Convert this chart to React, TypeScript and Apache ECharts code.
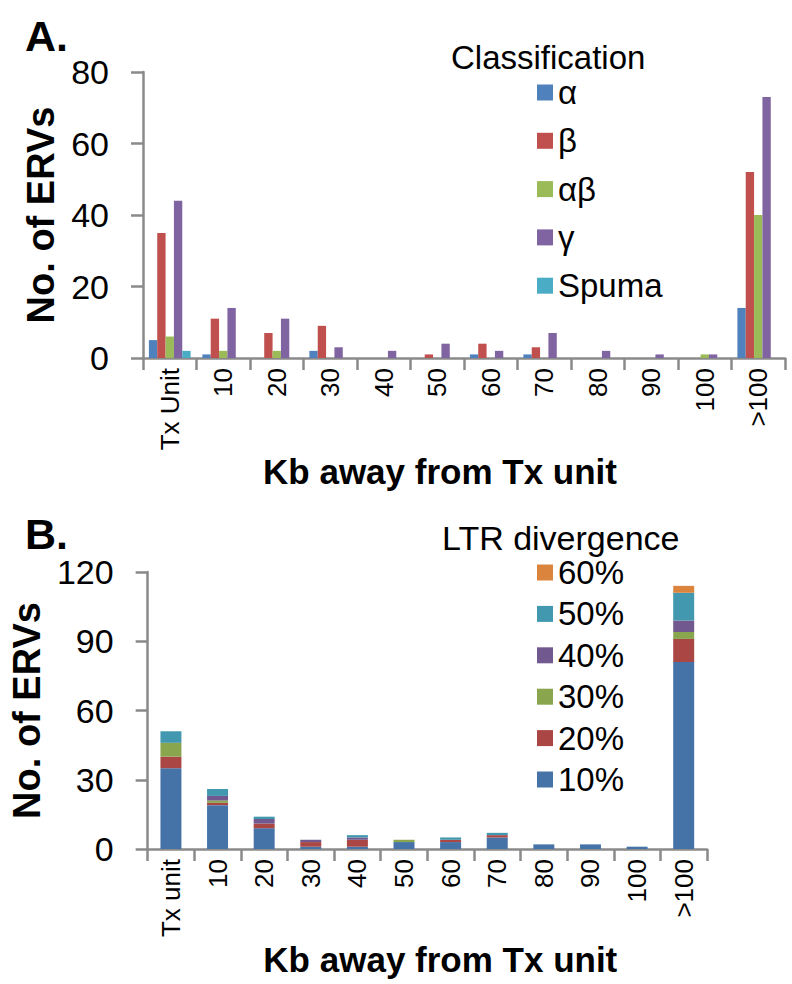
import React, { useEffect, useRef } from "react";
import * as echarts from "echarts";

const catsA = ["Tx Unit", "10", "20", "30", "40", "50", "60", "70", "80", "90", "100", ">100"];
const catsB = ["Tx unit", "10", "20", "30", "40", "50", "60", "70", "80", "90", "100", ">100"];

const alpha = [5, 1, 0, 2, 0, 0, 1, 1, 0, 0, 0, 14];
const beta = [35, 11, 7, 9, 0, 1, 4, 3, 0, 0, 0, 52];
const alphaBeta = [6, 2, 2, 0, 0, 0, 0, 0, 0, 0, 1, 40];
const gamma = [44, 14, 11, 3, 2, 4, 2, 7, 2, 1, 1, 73];
const spuma = [2, 0, 0, 0, 0, 0, 0, 0, 0, 0, 0, 0];

const div10 = [35, 19, 9, 1, 1, 3, 3, 5, 2, 2, 1, 81];
const div20 = [5, 1, 2, 2, 3, 0, 1, 1, 0, 0, 0, 10];
const div30 = [6, 1, 0, 0, 0, 1, 0, 0, 0, 0, 0, 3];
const div40 = [0, 2, 2, 1, 1, 0, 0, 0, 0, 0, 0, 5];
const div50 = [5, 3, 1, 0, 1, 0, 1, 1, 0, 0, 0, 12];
const div60 = [0, 0, 0, 0, 0, 0, 0, 0, 0, 0, 0, 3];

const FONT = "Liberation Sans, Arial, sans-serif";
const AXIS = "#8a8a8a";

export default function App() {
  const ref = useRef<HTMLDivElement>(null);
  useEffect(() => {
    document.body.style.margin = "0";
    const chart = echarts.init(ref.current!, null, { renderer: "svg" });
    const axisLine = { show: true, lineStyle: { color: AXIS, width: 2.5 } };
    const axisTick = { show: true, length: 12, lineStyle: { color: AXIS, width: 2.5 } };
    const xAxisCommon = (idx: number, data: string[], gap: number, pad: number[]) => ({
      type: "category",
      gridIndex: idx,
      data,
      boundaryGap: true,
      axisLine,
      axisTick: { ...axisTick, alignWithLabel: false, inside: false },
      axisLabel: { rotate: 90, fontSize: 26, color: "#000", fontFamily: FONT, margin: 10, interval: 0 },
      name: "Kb away from Tx unit",
      nameLocation: "middle",
      nameGap: gap,
      nameTextStyle: { fontSize: 35, fontWeight: "bold", color: "#000", fontFamily: FONT, padding: pad },
    });
    const yAxisCommon = (idx: number, max: number, interval: number) => ({
      type: "value",
      gridIndex: idx,
      min: 0,
      max,
      interval,
      axisLine,
      axisTick,
      splitLine: { show: false },
      axisLabel: { fontSize: 34, color: "#000", fontFamily: FONT, margin: 34 },
      name: "No. of ERVs",
      nameLocation: "middle",
      nameGap: 80,
      nameTextStyle: { fontSize: 38, fontWeight: "bold", color: "#000", fontFamily: FONT },
    });
    const colorsA = ["#4F81BD", "#C0504D", "#9BBB59", "#8064A2", "#4BACC6"];
    const colorsB = ["#4572A7", "#AA4643", "#89A54E", "#71588F", "#4198AF", "#DB843D"];
    const namesA = ["α", "β", "αβ", "γ", "Spuma"];
    const dataA = [alpha, beta, alphaBeta, gamma, spuma];
    const namesB = ["10%", "20%", "30%", "40%", "50%", "60%"];
    const dataB = [div10, div20, div30, div40, div50, div60];

    const seriesA = namesA.map((n, i) => ({
      name: n,
      type: "bar",
      xAxisIndex: 0,
      yAxisIndex: 0,
      data: dataA[i],
      barGap: "0%",
      barCategoryGap: "22%",
      itemStyle: { color: colorsA[i] },
    }));
    const seriesB = namesB.map((n, i) => ({
      name: n,
      type: "bar",
      xAxisIndex: 1,
      yAxisIndex: 1,
      stack: "div",
      data: dataB[i],
      barWidth: "45%",
      itemStyle: { color: colorsB[i] },
    }));

    chart.setOption({
      animation: false,
      textStyle: { fontFamily: FONT },
      title: [
        { text: "A.", left: 20, top: 9, textStyle: { fontSize: 43, fontWeight: "bold", color: "#000", fontFamily: FONT } },
        { text: "B.", left: 20, top: 507, textStyle: { fontSize: 43, fontWeight: "bold", color: "#000", fontFamily: FONT } },
        { text: "Classification", left: 451, top: 41, padding: 0, textStyle: { fontSize: 33, fontWeight: "normal", color: "#000", fontFamily: FONT } },
        { text: "LTR divergence", left: 442, top: 521, padding: 0, textStyle: { fontSize: 34, fontWeight: "normal", color: "#000", fontFamily: FONT } },
      ],
      legend: [
        {
          data: namesA,
          orient: "vertical",
          left: 537,
          top: 76,
          padding: 0,
          icon: "rect",
          itemWidth: 16,
          itemHeight: 16,
          itemGap: 15.3,
          textStyle: { fontSize: 33, lineHeight: 33, color: "#000", fontFamily: FONT },
        },
        {
          data: ["60%", "50%", "40%", "30%", "20%", "10%"],
          orient: "vertical",
          left: 537,
          top: 556,
          padding: 0,
          icon: "rect",
          itemWidth: 16,
          itemHeight: 16,
          itemGap: 8.4,
          textStyle: { fontSize: 33, lineHeight: 33, color: "#000", fontFamily: FONT },
        },
      ],
      grid: [
        { left: 143, top: 72, width: 642, height: 286, containLabel: false },
        { left: 143, top: 572, width: 564, height: 277, containLabel: false },
      ],
      xAxis: [xAxisCommon(0, catsA, 96, [0, 48, 0, 0]), xAxisCommon(1, catsB, 93, [0, 0, 0, 26])],
      yAxis: [yAxisCommon(0, 80, 20), yAxisCommon(1, 120, 30)],
      series: [...seriesA, ...seriesB],
    });
    return () => chart.dispose();
  }, []);
  return <div ref={ref} style={{ width: 792, height: 984 }} />;
}
